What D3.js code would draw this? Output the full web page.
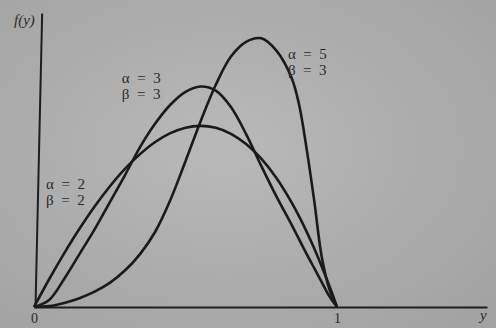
<!DOCTYPE html>
<html>
<head>
<meta charset="utf-8">
<script src="https://cdn.jsdelivr.net/npm/d3@7"></script>
<style>
  html, body { margin: 0; padding: 0; background: #adadad; }
  svg { display: block; }
  text { font-family: "Liberation Serif", "DejaVu Serif", serif; fill: #2a2a2a; white-space: pre; }
</style>
</head>
<body>
<svg id="chart" width="496" height="328"></svg>
<script>
// y values on a shared x grid
const xs = [0, 0.05, 0.1, 0.15, 0.2, 0.25, 0.3, 0.35, 0.4, 0.45, 0.5, 0.55, 0.6, 0.65, 0.7, 0.75, 0.8, 0.85, 0.875, 0.9, 0.925, 0.95, 0.975, 1]
const beta22 = [0, 0.236, 0.458, 0.665, 0.855, 1.025, 1.175, 1.30, 1.403, 1.478, 1.525, 1.54, 1.524, 1.473, 1.386, 1.261, 1.097, 0.89, 0.77, 0.639, 0.497, 0.343, 0.178, 0]
const beta33 = [0, 0.06, 0.24, 0.45, 0.66, 0.89, 1.12, 1.36, 1.56, 1.72, 1.83, 1.875, 1.84, 1.70, 1.47, 1.20, 0.94, 0.70, 0.575, 0.45, 0.33, 0.21, 0.09, 0]
const beta53 = [0, 0.008, 0.035, 0.075, 0.13, 0.205, 0.31, 0.45, 0.64, 0.91, 1.24, 1.58, 1.89, 2.13, 2.255, 2.285, 2.18, 1.95, 1.72, 1.34, 0.90, 0.42, 0.15, 0]

const curveLabels = [
  {a: "α  =  2", b: "β  =  2", at: [0.04, 1.005]},
  {a: "α  =  3", b: "β  =  3", at: [0.29, 1.905]},
  {a: "α  =  5", b: "β  =  3", at: [0.838, 2.105]}
]
const xTicks = [0, 1]

const svg = d3.select("#chart")

// paper-ish background
const defs = svg.append("defs")
const grad = defs.append("radialGradient").attr("id", "paper").attr("cx", "45%").attr("cy", "45%").attr("r", "70%")
grad.append("stop").attr("offset", "0%").attr("stop-color", "#b9b9b9")
grad.append("stop").attr("offset", "100%").attr("stop-color", "#a3a3a3")
svg.append("rect").attr("width", 496).attr("height", 328).attr("fill", "url(#paper)")

const x = d3.scaleLinear().domain([0, 1]).range([34, 337])
const y = d3.scaleLinear().domain([0, 2.5]).range([307, 13])

// x axis runs past 1 out to the "y" label
const xAxisScale = d3.scaleLinear().domain([0, 1.495]).range([34, 487])
const xAxis = svg.append("g")
  .attr("transform", "translate(0," + y(0) + ")")
  .call(d3.axisBottom(xAxisScale).tickValues(xTicks).tickSize(0).tickPadding(6).tickFormat(d3.format("d")))
xAxis.select(".domain").attr("stroke", "#1e1e1e").attr("stroke-width", 2)
xAxis.selectAll(".tick text").attr("font-size", 14).attr("font-family", "Liberation Serif").attr("fill", "#2a2a2a")

// y axis (slightly tilted like the photo)
const yAxis = svg.append("g")
  .attr("transform", "translate(" + 35 + ",0) rotate(1.3," + 0 + "," + y(0) + ")")
  .call(d3.axisLeft(y).tickValues([]).tickSize(0))
yAxis.select(".domain").attr("stroke", "#1e1e1e").attr("stroke-width", 2)

svg.append("text").attr("x", 14).attr("y", 25).attr("font-size", 15).attr("font-style", "italic").text("f(y)")
svg.append("text").attr("x", 480).attr("y", 320).attr("font-size", 15).attr("font-style", "italic").text("y")

const line = d3.line()
  .x((d, i) => x(xs[i]))
  .y(d => y(d))
  .curve(d3.curveCatmullRom.alpha(0.5))

for (const series of [beta22, beta33, beta53]) {
  svg.append("path")
    .attr("d", line(series))
    .attr("fill", "none")
    .attr("stroke", "#1a1a1a")
    .attr("stroke-width", 2.6)
    .attr("stroke-linejoin", "round")
}

const lbl = svg.selectAll(".lbl").data(curveLabels).enter().append("g").attr("class", "lbl")
lbl.append("text")
  .attr("x", d => x(d.at[0])).attr("y", d => y(d.at[1]))
  .attr("font-size", 15)
  .text(d => d.a)
lbl.append("text")
  .attr("x", d => x(d.at[0])).attr("y", d => y(d.at[1]) + 16)
  .attr("font-size", 15)
  .text(d => d.b)
</script>
</body>
</html>
